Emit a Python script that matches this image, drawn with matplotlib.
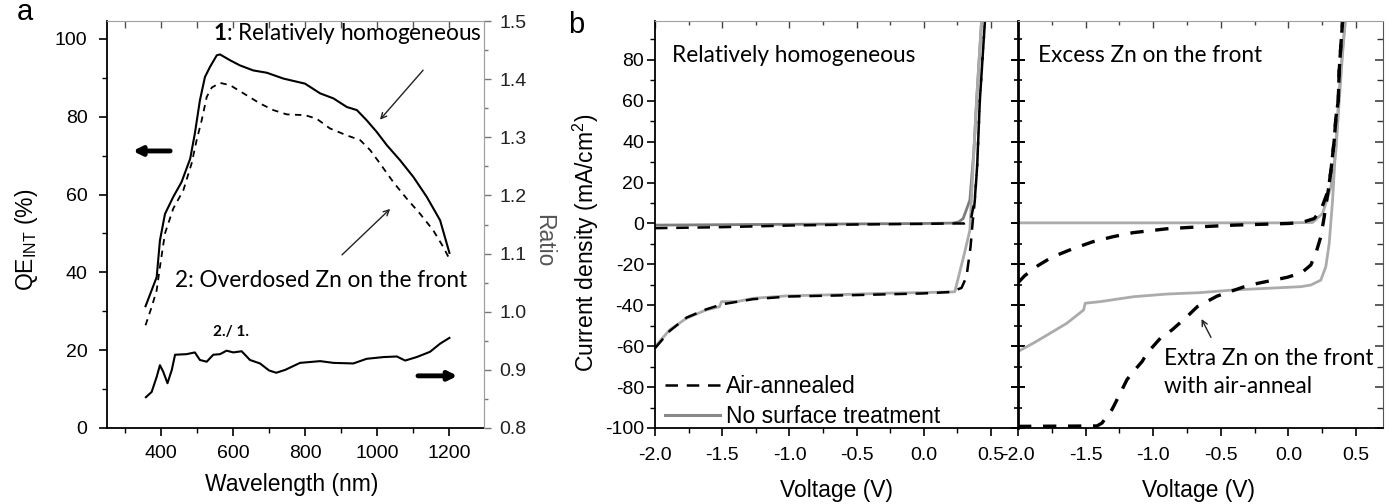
import numpy as np
import matplotlib
matplotlib.use('Agg')
import matplotlib.pyplot as plt
from matplotlib.ticker import FixedLocator, MultipleLocator, FormatStrFormatter
from matplotlib.lines import Line2D

plt.rcParams['font.family'] = ['Liberation Sans', 'DejaVu Sans']
plt.rcParams['axes.unicode_minus'] = False
plt.rcParams['mathtext.fontset'] = 'custom'
plt.rcParams['mathtext.rm'] = 'Liberation Sans'
plt.rcParams['mathtext.it'] = 'Liberation Sans:italic'
plt.rcParams['mathtext.bf'] = 'Lato:bold'
plt.rcParams['mathtext.sf'] = 'Liberation Sans'

# ---------------- data: panel a ----------------
wl_homog = [357, 374, 388, 397, 411, 434, 457, 481, 494, 508, 522, 536, 555, 564, 592, 619, 656, 694,
            740, 800, 842, 879, 916, 944, 971, 999, 1027, 1064, 1101, 1138, 1175, 1201]
qe_homog = [31.3, 35.4, 38.8, 48.2, 55, 59.4, 63.2, 69.2, 75.7, 84.2, 90.2, 92.8, 95.8, 96, 94.5, 93.2,
            91.9, 91.3, 89.8, 88.5, 86, 84.7, 82.5, 81.7, 79.1, 76.1, 72.7, 68.8, 64.5, 59.4, 53.4, 45]
wl_overdosed = [357, 374, 388, 397, 411, 434, 462, 485, 499, 513, 527, 541, 564, 592, 638, 675, 712, 749,
                800, 832, 869, 916, 953, 981, 1008, 1045, 1082, 1119, 1156, 1184, 1203]
qe_overdosed = [26.4, 31.1, 35.4, 41.4, 50, 56.4, 61.1, 68, 74, 79.1, 85.1, 87.5, 88.7, 88.1, 85.5, 83.4,
                81.7, 80.6, 80.4, 79.5, 77, 75.2, 74, 71.4, 68, 63.2, 59, 55.1, 50.8, 46.5, 43.1]
wl_ratio = [358, 374, 388, 397, 406, 418, 430, 439, 471, 494, 508, 527, 545, 564, 582, 601, 624, 647, 675,
            700, 720, 745, 786, 842, 879, 934, 971, 1018, 1055, 1078, 1110, 1147, 1175, 1201]
ratio = [0.853, 0.862, 0.888, 0.908, 0.897, 0.877, 0.900, 0.926, 0.927, 0.930, 0.917, 0.914, 0.926, 0.927,
         0.933, 0.930, 0.932, 0.917, 0.911, 0.899, 0.895, 0.900, 0.912, 0.915, 0.912, 0.911, 0.919, 0.922,
         0.923, 0.916, 0.922, 0.931, 0.945, 0.955]

# ---------------- data: panel b (left, relatively homogeneous) ----------------
v_b1_dark_none = [-2.0, -1.5, -1.0, -0.5, 0.0, 0.218, 0.26, 0.292, 0.342, 0.372, 0.392, 0.429]
j_b1_dark_none = [-0.8, -0.6, -0.4, -0.2, 0.0, 0.2, 0.8, 2.4, 11.4, 35.7, 60, 99]
v_b1_dark_air = [-2.0, -1.5, -1.0, -0.5, 0.0, 0.2, 0.3, 0.35, 0.379, 0.396, 0.416, 0.454]
j_b1_dark_air = [-2.3, -1.8, -1.0, -0.5, -0.2, 0.0, 0.0, 2.0, 12, 28, 60, 99]
v_b1_light_none = [-2.0, -1.89, -1.765, -1.62, -1.52, -1.505, -1.39, -1.27, -1.02, -0.775, -0.527, -0.28,
                   -0.032, 0.193, 0.23, 0.258, 0.30, 0.342, 0.372, 0.392, 0.429]
j_b1_light_none = [-60.2, -52, -46.3, -42.3, -40.7, -38.2, -38.2, -36.6, -35.4, -35, -34.6, -34.1, -33.8,
                   -33.5, -33.4, -26, -15, -3.3, 35.7, 60, 99]
v_b1_light_air = [-2.0, -1.89, -1.765, -1.62, -1.5, -1.27, -1.0, -0.5, 0.0, 0.2, 0.28, 0.317, 0.347, 0.362,
                  0.379, 0.396, 0.416, 0.454]
j_b1_light_air = [-61, -52.5, -46, -42, -39.5, -37, -35.7, -35, -34.2, -33.5, -31.5, -26, -11.4, 0, 11.4,
                  27.6, 60, 99]

# ---------------- data: panel b (right, excess Zn) ----------------
v_b2_dark_none = [-2.0, -1.0, 0.0, 0.179, 0.253, 0.315, 0.352, 0.376, 0.401, 0.421]
j_b2_dark_none = [0.3, 0.3, 0.3, 0.5, 4.9, 17.9, 35.7, 60, 83, 99]
v_b2_dark_air = [-2.0, -1.95, -1.85, -1.75, -1.6, -1.45, -1.3, -1.15, -0.9, -0.65, -0.4, 0.0, 0.1, 0.191,
                 0.240, 0.295, 0.315, 0.339, 0.352, 0.369, 0.376, 0.389, 0.401]
j_b2_dark_air = [-29, -25.5, -20.5, -16.5, -12.5, -9, -6.5, -4.5, -2.6, -1.6, -0.8, 0, 0.5, 2.4, 6.5, 16.2,
                 26, 40.6, 52, 60, 74.8, 87.8, 99]
v_b2_light_none = [-2.0, -1.886, -1.763, -1.639, -1.515, -1.503, -1.39, -1.145, -0.897, -0.65, -0.403,
                   -0.156, 0.092, 0.166, 0.240, 0.277, 0.302, 0.327, 0.352, 0.376, 0.40, 0.421]
j_b2_light_none = [-62.6, -58.5, -53.7, -48.8, -42.3, -39, -38.2, -35.8, -34.5, -33.8, -32.5, -31.7, -30.9,
                   -30.1, -27.7, -21.1, -9.8, 11.4, 40, 65, 85, 99]
v_b2_light_air = [-2.0, -1.416, -1.379, -1.305, -1.280, -1.194, -1.157, -1.082, -1.045, -0.947, -0.860,
                  -0.749, -0.674, -0.527, -0.33, -0.229, -0.007, 0.1, 0.166, 0.203, 0.240, 0.265, 0.295,
                  0.315, 0.339, 0.352, 0.369, 0.376, 0.389, 0.401]
j_b2_light_air = [-99.2, -99, -97.6, -91, -87.8, -76.4, -73.2, -67.5, -63.4, -56.1, -52, -45.5, -40.7,
                  -35.5, -31, -29.3, -26.3, -24, -20.3, -14.6, -6.5, 3.2, 16.2, 26, 40.6, 52, 60, 74.8,
                  87.8, 99]

legend_labels = ['Air-annealed', 'No surface treatment']

# ---------------- figure ----------------
W, H = 1389, 504
fig = plt.figure(figsize=(W / 100, H / 100), dpi=100)

def ax_rect(l, r, t, b):
    return [l / W, 1 - b / H, (r - l) / W, (b - t) / H]

TICK = 14
LAB = 16.5
ANN = 16.3
GRAY_SP = '#a0a0a0'
ann_font = ['Lato', 'DejaVu Sans']

# ===== panel a =====
axa = fig.add_axes(ax_rect(107, 484, 21, 428))
axa.plot(wl_homog, qe_homog, color='black', lw=1.5)
axa.plot(wl_overdosed, qe_overdosed, color='black', lw=1.3, dashes=(3.5, 3))
axa.set_xlim(250, 1297)
axa.set_ylim(0, 104.6)
axa.xaxis.set_major_locator(FixedLocator([400, 600, 800, 1000, 1200]))
axa.xaxis.set_minor_locator(FixedLocator([300, 500, 700, 900, 1100]))
axa.yaxis.set_major_locator(MultipleLocator(20))
axa.yaxis.set_minor_locator(MultipleLocator(10))
axa.tick_params(axis='both', which='major', direction='out', length=6, width=1.2, labelsize=TICK)
axa.tick_params(axis='both', which='minor', direction='out', length=3.5, width=1.0)
axa.tick_params(axis='y', which='major', pad=8)
axa.tick_params(axis='x', which='major', pad=6)
axa.spines['top'].set_color(GRAY_SP)
axa.spines['right'].set_color(GRAY_SP)
axa.spines['left'].set_linewidth(1.3)
axa.spines['bottom'].set_linewidth(1.3)
secx = axa.secondary_xaxis('top')
secx.xaxis.set_major_locator(MultipleLocator(100))
secx.tick_params(direction='in', length=5, width=1.0, color='#555555', labeltop=False)
secx.spines['top'].set_visible(False)

axr = axa.twinx()
axr.plot(wl_ratio, ratio, color='black', lw=1.5)
axr.set_xlim(250, 1297)
axr.set_ylim(0.8, 1.5)
axr.yaxis.set_major_locator(MultipleLocator(0.1))
axr.yaxis.set_minor_locator(MultipleLocator(0.05))
axr.yaxis.set_major_formatter(FormatStrFormatter('%.1f'))
axr.tick_params(axis='y', which='major', direction='out', length=5, width=1.0, color='#777777',
                labelsize=TICK, pad=6, labelcolor='#222222')
axr.tick_params(axis='y', which='minor', direction='out', length=3, width=1.0, color='#777777')
for s in ['top', 'right', 'left', 'bottom']:
    axr.spines[s].set_visible(False)
axr.spines['right'].set_visible(True)
axr.spines['right'].set_color(GRAY_SP)

# annotations panel a
axa.text(544, 101.5, r'$\mathbf{1}$: Relatively homogeneous', fontsize=ANN, family=ann_font,
         ha='left', va='center')
axa.text(439, 38, '2: Overdosed Zn on the front', fontsize=ANN, family=ann_font, ha='left', va='center')
axa.text(544, 24.7, '2./ 1.', fontsize=11, family=ann_font, fontweight='bold', ha='left', va='center')
axa.annotate('', xy=(1003, 78.7), xytext=(1133, 92.5),
             arrowprops=dict(arrowstyle='->', lw=1.0, color='#222222'))
axa.annotate('', xy=(1042, 56.8), xytext=(897, 44),
             arrowprops=dict(arrowstyle='->', lw=1.0, color='#222222'))
axa.annotate('', xy=(314, 71.2), xytext=(433, 71.2),
             arrowprops=dict(arrowstyle='-|>,head_length=0.5,head_width=0.25', lw=3.5, color='black'))
axa.annotate('', xy=(1231, 13.4), xytext=(1106, 13.4),
             arrowprops=dict(arrowstyle='-|>,head_length=0.5,head_width=0.25', lw=3.5, color='black'))

fig.text(17 / W, 1 - 20 / H, 'a', fontsize=21, ha='left', va='baseline')
fig.text(27 / W, 1 - 240 / H, r'QE$_{\rm INT}$ (%)', fontsize=LAB, rotation=90, ha='center', va='center')
fig.text(292 / W, 1 - 485 / H, 'Wavelength (nm)', fontsize=LAB, ha='center', va='center')
fig.text(544 / W, 1 - 241 / H, 'Ratio', fontsize=LAB, rotation=270, ha='center', va='center',
         color='#555555')

# ===== panel b =====
fig.text(568 / W, 1 - 33 / H, 'b', fontsize=21, ha='left', va='baseline')
ax1 = fig.add_axes(ax_rect(655, 1018, 21, 428))
ax2 = fig.add_axes(ax_rect(1018, 1383, 21, 428))

DARKG = '#7d7d7d'
LIGHTG = '#ababab'

ax1.plot(v_b1_dark_none, j_b1_dark_none, color=DARKG, lw=2.0)
ax1.plot(v_b1_light_none, j_b1_light_none, color=LIGHTG, lw=2.0)
ax1.plot(v_b1_dark_air, j_b1_dark_air, color='black', lw=1.8, dashes=(5, 3.5))
ax1.plot(v_b1_light_air, j_b1_light_air, color='black', lw=1.8, dashes=(5, 3.5))

ax2.plot(v_b2_dark_none, j_b2_dark_none, color=LIGHTG, lw=2.0)
ax2.plot(v_b2_light_none, j_b2_light_none, color=LIGHTG, lw=2.0)
ax2.plot(v_b2_dark_air, j_b2_dark_air, color='black', lw=2.4, dashes=(4, 3.5))
ax2.plot(v_b2_light_air, j_b2_light_air, color='black', lw=2.4, dashes=(4, 3.5))

for ax in (ax1, ax2):
    ax.set_xlim(-2.0, 0.7)
    ax.set_ylim(-100, 99)
    ax.xaxis.set_major_locator(MultipleLocator(0.5))
    ax.xaxis.set_minor_locator(MultipleLocator(0.25))
    ax.xaxis.set_major_formatter(FormatStrFormatter('%.1f'))
    ax.yaxis.set_major_locator(MultipleLocator(20))
    ax.yaxis.set_minor_locator(MultipleLocator(10))
    ax.tick_params(axis='x', which='major', direction='out', length=6, width=1.2, labelsize=TICK, pad=8)
    ax.tick_params(axis='x', which='minor', direction='out', length=3.5, width=1.0)
    ax.spines['top'].set_color(GRAY_SP)
    ax.spines['bottom'].set_linewidth(1.3)
    sx = ax.secondary_xaxis('top')
    sx.xaxis.set_major_locator(MultipleLocator(0.5))
    sx.xaxis.set_minor_locator(MultipleLocator(0.25))
    sx.tick_params(which='major', direction='in', length=5, width=1.0, color='#444444', labeltop=False)
    sx.tick_params(which='minor', direction='in', length=3, width=1.0, color='#444444')
    sx.spines['top'].set_visible(False)

ax1.spines['right'].set_visible(False)
ax1.spines['left'].set_linewidth(1.3)
ax1.tick_params(axis='y', which='major', direction='out', length=6, width=1.2, labelsize=TICK, pad=2)
ax1.tick_params(axis='y', which='minor', direction='out', length=3.5, width=1.0)

ax2.spines['left'].set_linewidth(2.0)
ax2.spines['right'].set_color('#555555')
ax2.tick_params(axis='y', which='major', direction='inout', length=10, width=1.4, labelleft=False)
ax2.tick_params(axis='y', which='minor', direction='inout', length=6, width=1.2)
sy = ax2.secondary_yaxis('right')
sy.yaxis.set_major_locator(MultipleLocator(20))
sy.yaxis.set_minor_locator(MultipleLocator(10))
sy.tick_params(which='major', direction='in', length=6, width=1.1, color='#333333', labelright=False)
sy.tick_params(which='minor', direction='in', length=4, width=1.0, color='#333333')
sy.spines['right'].set_visible(False)

ax1.text(-1.876, 82, 'Relatively homogeneous', fontsize=ANN, family=ann_font, ha='left', va='center')
ax2.text(-1.849, 82, 'Excess Zn on the front', fontsize=ANN, family=ann_font, ha='left', va='center')
ax2.text(-0.922, -73, 'Extra Zn on the front\nwith air-anneal', fontsize=ANN, family=ann_font,
         ha='left', va='center', linespacing=1.4)
ax2.annotate('', xy=(-0.652, -45.5), xytext=(-0.563, -56.9),
             arrowprops=dict(arrowstyle='->', lw=1.0, color='#222222'))

handles = [Line2D([], [], color='black', lw=1.8, dashes=(5, 3.5)),
           Line2D([], [], color='#8a8a8a', lw=2.2)]
ax1.legend(handles, legend_labels, loc='lower left', bbox_to_anchor=(0.027, 0.0), frameon=False,
           fontsize=LAB, handlelength=2.4, handletextpad=0.25, labelspacing=0.3, borderpad=0,
           borderaxespad=0)

fig.text(586 / W, 1 - 243 / H, r'Current density (mA/cm$^2$)', fontsize=LAB, rotation=90,
         ha='center', va='center')
fig.text(836 / W, 1 - 490 / H, 'Voltage (V)', fontsize=LAB, ha='center', va='center')
fig.text(1199 / W, 1 - 490 / H, 'Voltage (V)', fontsize=LAB, ha='center', va='center')

fig.savefig('out.png', dpi=100)
